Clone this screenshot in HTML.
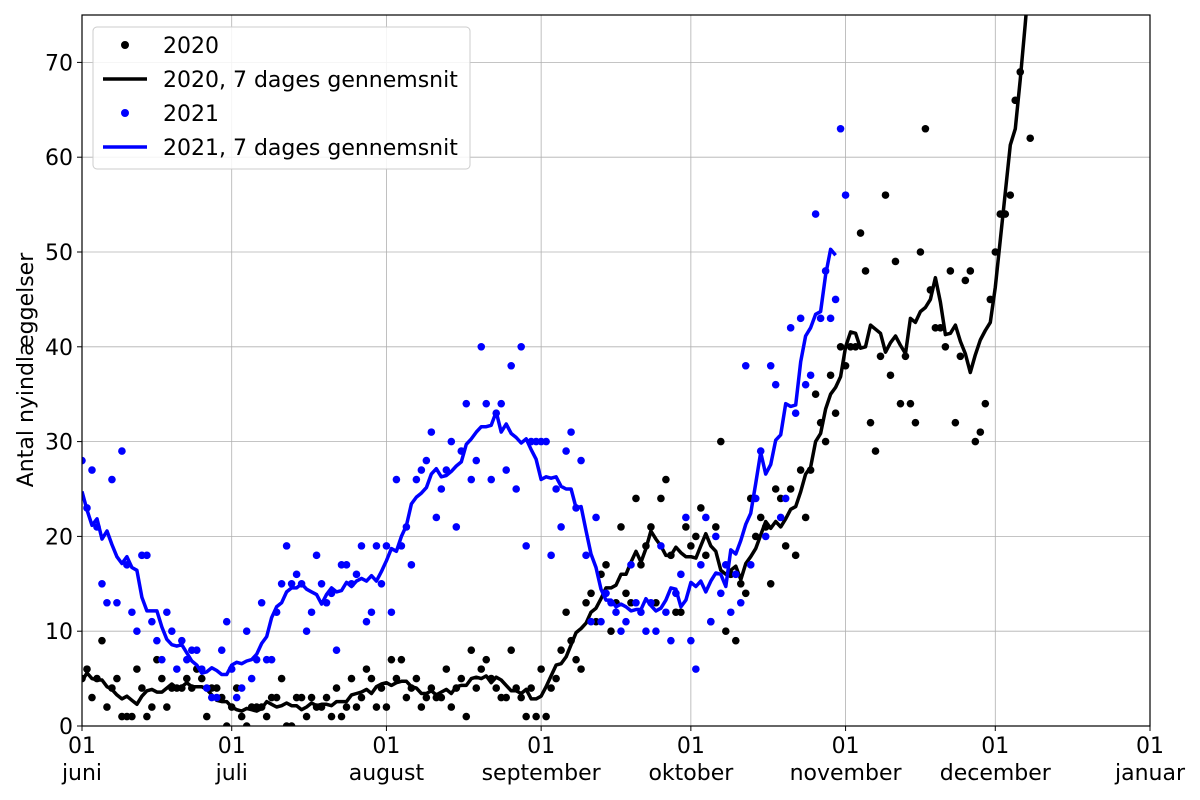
<!DOCTYPE html>
<html><head><meta charset="utf-8"><style>
html,body{margin:0;padding:0;background:#fff;}
svg{display:block;font-family:"DejaVu Sans","Liberation Sans",sans-serif;}
</style></head><body>
<svg id="chart" width="1200" height="800" xmlns="http://www.w3.org/2000/svg">
<defs><clipPath id="plotclip"><rect x="82" y="15" width="1068" height="711"/></clipPath></defs>
<g id="grid"></g>
<g id="series" clip-path="url(#plotclip)"></g>
<rect x="82" y="15" width="1068" height="711" fill="none" stroke="#000" stroke-width="1.2"/>
<g id="axes"></g>
<text x="33" y="370" font-size="22" text-anchor="middle" transform="rotate(-90 33 370)">Antal nyindlæggelser</text>
<g>
<rect x="93" y="27" width="377" height="142" rx="4" fill="#fff" fill-opacity="0.85" stroke="#ccc"/>
<g><circle cx="125" cy="45" r="4" fill="#000"/><text x="163" y="53" font-size="22">2020</text></g>
<g><line x1="103" y1="79" x2="147" y2="79" stroke="#000" stroke-width="3.5"/><text x="163" y="87" font-size="22">2020, 7 dages gennemsnit</text></g>
<g><circle cx="125" cy="113" r="4" fill="#00f"/><text x="163" y="121" font-size="22">2021</text></g>
<g><line x1="103" y1="147" x2="147" y2="147" stroke="#00f" stroke-width="3.5"/><text x="163" y="155" font-size="22">2021, 7 dages gennemsnit</text></g>
</g>
</svg>
<script>
const monthLabels = ["juni","juli","august","september","oktober","november","december","januar"];
const monthStartDays = [0,30,61,92,122,153,183,214];
const yTicks = [0,10,20,30,40,50,60,70];
const values2020 = [5,6,3,5,9,2,4,5,1,1,1,6,4,1,2,7,5,2,4,4,4,5,4,6,5,1,4,4,3,0,
 2,4,1,0,2,2,2,1,3,3,5,0,0,3,3,1,3,2,2,3,1,4,1,2,5,2,3,6,5,2,4,
 2,7,5,7,3,4,5,2,3,4,3,3,6,2,4,5,1,8,4,6,7,5,4,3,3,8,4,3,1,4,1,
 6,1,4,5,8,12,9,7,6,13,14,11,16,17,10,13,21,14,13,24,17,19,21,13,24,26,18,12,12,21,
 19,20,23,18,11,21,30,10,16,9,15,14,24,20,22,21,15,25,24,19,25,18,27,22,27,35,32,30,37,33,40,
 38,40,40,52,48,32,29,39,56,37,49,34,39,34,32,50,63,46,42,42,40,48,32,39,47,48,30,31,34,45,
 50,54,54,56,66,69,80,62,90,95,100,105,110];
const values2021 = [28,23,27,21,15,13,26,13,29,17,12,10,18,18,11,9,7,12,10,6,9,7,8,8,6,4,3,3,8,11,
 6,3,4,10,5,7,13,7,7,12,15,19,15,16,15,10,12,18,15,13,14,8,17,17,15,16,19,11,12,19,15,
 19,12,26,19,21,17,26,27,28,31,22,25,27,30,21,29,34,26,28,40,34,26,33,34,27,38,25,40,19,30,30,
 30,30,18,25,21,29,31,23,28,18,11,22,11,14,13,12,10,11,17,13,12,10,13,10,19,12,9,14,16,22,
 9,6,17,22,11,20,14,17,12,16,13,38,17,24,29,20,38,36,22,24,42,33,43,36,37,54,43,48,43,45,
 63,56];
const avgEnd2021 = 151;

const NS="http://www.w3.org/2000/svg";
const X0=82,X1=1150,Y0=726,Y1=15,DMAX=214,VMAX=75;
const xs=d=>X0+d*(X1-X0)/DMAX;
const ys=v=>Y0-v*(Y0-Y1)/VMAX;
function mk(tag,attrs,parent){const e=document.createElementNS(NS,tag);for(const k in attrs)e.setAttribute(k,attrs[k]);parent.appendChild(e);return e;}
const grid=document.getElementById('grid'),axes=document.getElementById('axes'),series=document.getElementById('series');

monthStartDays.forEach((d,i)=>{
  const x=xs(d);
  const gl=mk('line',{x1:x,x2:x,y1:Y1,y2:Y0,stroke:'#b0b0b0','stroke-width':0.8},grid);
  
  
  mk('line',{x1:x,x2:x,y1:Y0,y2:Y0+5,stroke:'#000'},axes);
  const t=mk('text',{x:x,y:753,'font-size':22,'text-anchor':'middle'},axes);t.textContent='01';
  
  
  const m=mk('text',{x:x,y:780,'font-size':22,'text-anchor':'middle'},axes);m.textContent=monthLabels[i];
  
  
});
yTicks.forEach(v=>{
  const y=ys(v);
  const gl=mk('line',{x1:X0,x2:X1,y1:y,y2:y,stroke:'#b0b0b0','stroke-width':0.8},grid);
  
  
  mk('line',{x1:X0-5,x2:X0,y1:y,y2:y,stroke:'#000'},axes);
  const t=mk('text',{x:X0-9,y:y+8,'font-size':22,'text-anchor':'end'},axes);t.textContent=v;
  
  
});

function rolling(arr,end){
  const out=[];
  for(let i=0;i<=end;i++){let s=0,n=0;for(let j=i-3;j<=i+3;j++){if(j>=0&&j<arr.length){s+=arr[j];n++;}}out.push(s/n);}
  return out;
}
function drawLine(avg,color,name){
  const d=avg.map((v,i)=>(i?'L':'M')+xs(i).toFixed(1)+','+ys(v).toFixed(1)).join(' ');
  const p=mk('path',{d:d,fill:'none',stroke:color,'stroke-width':3.5,'stroke-linejoin':'round'},series);
  
  
}
function drawDots(arr,color,name){
  arr.forEach((v,i)=>{
    const c=mk('circle',{cx:xs(i),cy:ys(v),r:3.8,fill:color},series);
    
    
  });
}
drawDots(values2020,'#000','point-2020');
drawLine(rolling(values2020,values2020.length-1),'#000','line-2020-avg');
drawDots(values2021,'#00f','point-2021');
drawLine(rolling(values2021,avgEnd2021),'#00f','line-2021-avg');
</script>
</body></html>
